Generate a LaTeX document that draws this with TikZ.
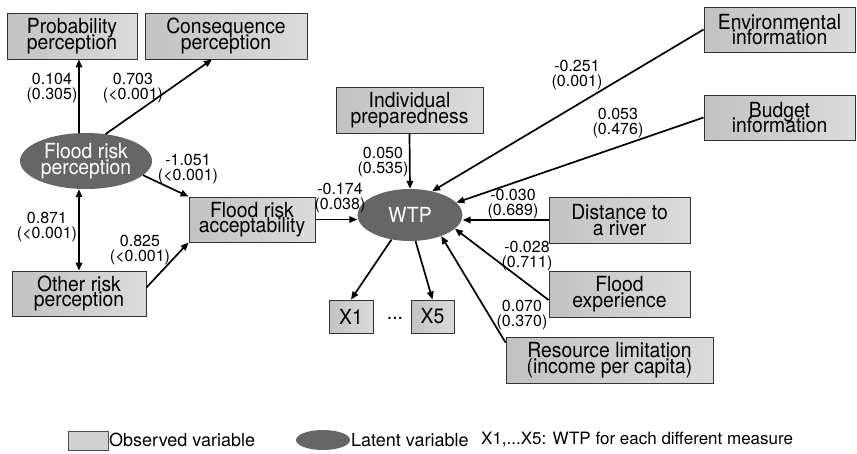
\documentclass[tikz,border=0pt]{standalone}
\usepackage{fontspec}
\setmainfont{TeX Gyre Heros}
\newfontfamily\boxfam{TeX Gyre Heros}[FakeStretch=0.93]
\usetikzlibrary{arrows.meta,shapes.geometric}

% text sizes: box captions, path coefficients, legend
\newcommand\boxfont{\boxfam\fontsize{20.8}{15.5}\selectfont\lineskiplimit=-100pt\lineskip=0pt}
\newcommand\coeffont{\fontsize{16}{15.5}\selectfont\lineskiplimit=-100pt\lineskip=0pt}
\newcommand\legfont{\fontsize{18}{18}\selectfont}

\begin{document}
\begin{tikzpicture}[x=1pt,y=-1pt,
  obs/.style={draw=black!80, line width=0.9pt, left color=black!24,
    middle color=black!5, right color=black!14, inner sep=0pt,
    align=center, font=\boxfont, minimum height=46pt},
  lat/.style={ellipse, fill=black!60, text=white, inner sep=0pt,
    align=center, font=\boxfont},
  coef/.style={align=center, font=\coeffont, inner sep=0pt},
  tipA/.tip={Triangle[length=8pt,width=6.5pt]},
  arr/.style={line width=1.7pt, -tipA},
  dbl/.style={line width=1.7pt, tipA-tipA},
  legtext/.style={anchor=west, font=\legfont, inner sep=0pt}
]
\useasboundingbox (0,0) rectangle (857,453);

% ---------- risk perception block ----------
\node[obs, minimum width=130pt] (prob) at (72,36) {Probability\\perception};
\node[obs, minimum width=162pt] (cons) at (226,36) {Consequence\\perception};
\node[lat, minimum width=132pt, minimum height=56pt] (frp) at (86,161) {Flood risk\\perception};
\node[obs, minimum width=134pt, minimum height=45pt] (other) at (79,293.5) {Other risk\\perception};
\node[obs, minimum width=126pt, minimum height=45pt] (acc) at (252,219.5) {Flood risk\\acceptability};

% ---------- WTP and its indicators ----------
\node[lat, minimum width=105pt, minimum height=52pt] (wtp) at (410,215) {WTP};
\node[obs, minimum width=147pt] (indiv) at (409.5,110) {Individual\\preparedness};
\node[obs, minimum width=44pt, minimum height=33pt] (x1) at (351,316.5) {X1};
\node[obs, minimum width=43pt, minimum height=33pt] (x5) at (432.5,316.5) {X5};
\node[font=\boxfont, inner sep=0pt] (dots) at (395,318) {...};

% ---------- external covariates ----------
\node[obs, minimum width=151pt, minimum height=45pt] (env) at (779.5,29.5) {Environmental\\information};
\node[obs, minimum width=151pt, minimum height=45pt] (bud) at (779.5,117.5) {Budget\\information};
\node[obs, minimum width=141pt] (dist) at (619.5,220) {Distance to\\a river};
\node[obs, minimum width=141pt] (exp) at (619.5,294) {Flood\\experience};
\node[obs, minimum width=207pt] (res) at (609.5,360) {Resource limitation\\(income per capita)};

% ---------- paths ----------
\draw[arr] ([xshift=-7pt]frp.north) -- ([xshift=-7pt]frp.north |- prob.south);
\draw[arr] (frp.54) -- ([xshift=-14pt]cons.south);
\draw[arr] (frp.-14) -- (acc.north west);
\draw[arr] ([yshift=6pt]other.east) -- (acc.south west);
\draw[dbl] ([xshift=-7pt]frp.south) -- (other.north);
\draw[arr] (acc.east) -- (acc.east -| wtp.west);
\draw[arr] (indiv.south) -- (wtp.north);
\draw[arr] (env.west) -- (wtp.47);
\draw[arr] (bud.west) -- (wtp.15);
\draw[arr] (dist.west) -- (dist.west -| wtp.east);
\draw[arr] ([yshift=-6pt]exp.west) -- (wtp.-17);
\draw[arr] ([yshift=-6pt]res.north west) -- (wtp.-34);
\draw[arr] (wtp.-127) -- (x1.north);
\draw[arr] (wtp.-78) -- (x5.north);

% ---------- coefficients (p-values) ----------
\node[coef] (c1) at (52,88) {0.104\\(0.305)};
\node[coef] (c2) at (133,88) {0.703\\(<0.001)};
\node[coef] (c3) at (188,169) {-1.051\\(<0.001)};
\node[coef] (c4) at (47,227) {0.871\\(<0.001)};
\node[coef] (c5) at (140,250) {0.825\\(<0.001)};
\node[coef] (c6) at (340,198) {-0.174\\(0.038)};
\node[coef] (c7) at (383,162) {0.050\\(0.535)};
\node[coef] (c8) at (577,75) {-0.251\\(0.001)};
\node[coef] (c9) at (618,123) {0.053\\(0.476)};
\node[coef] (c10) at (513,204) {-0.030\\(0.689)};
\node[coef] (c11) at (527,256) {-0.028\\(0.711)};
\node[coef] (c12) at (522,315) {0.070\\(0.370)};

% ---------- legend ----------
\node[draw=black!70, line width=0.6pt, fill=black!18, minimum width=40pt, minimum height=19pt, inner sep=0pt] (legobs) at (88,440.5) {};
\node[legtext] (legobst) at (109,440) {Observed variable};
\node[ellipse, fill=black!60, minimum width=54pt, minimum height=20pt, inner sep=0pt] (leglat) at (323,440) {};
\node[legtext] (leglatt) at (351,440) {Latent variable};
\node[legtext, font=\fontsize{17}{17}\selectfont] (legx) at (481,440) {X1,...X5: WTP for each different measure};
\end{tikzpicture}
\end{document}
